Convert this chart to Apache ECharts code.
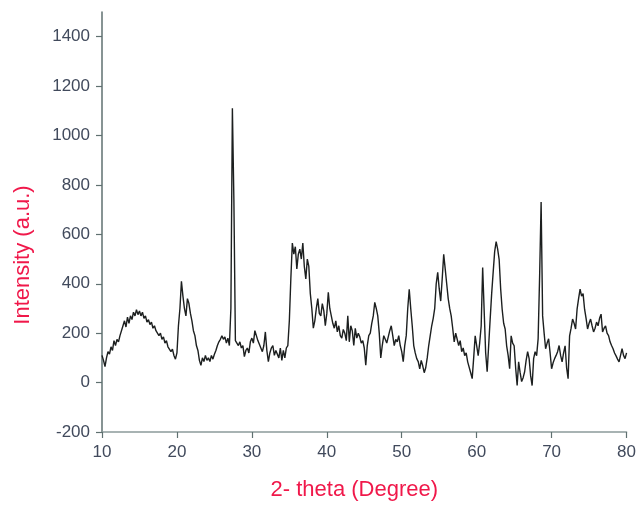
<!DOCTYPE html>
<html>
<head>
<meta charset="utf-8">
<script src="https://cdn.jsdelivr.net/npm/echarts@6/dist/echarts.min.js"></script>
<style>
html,body{margin:0;padding:0;background:#fff;}
#chart{width:639px;height:506px;}
</style>
</head>
<body>
<div id="chart"></div>
<script>
// 2-theta sampling: start and step (degrees)
var thetaStart = 10;
var thetaStep = 0.2;
// Intensity, one row per 2 degrees (10.0 ... 11.8, 12.0 ... 13.8, ...)
var intensity = [
  110, 90, 65, 100, 125, 115, 145, 130, 170, 150,
  175, 165, 190, 185, 230, 250, 225, 265, 240, 270,
  255, 285, 270, 295, 275, 290, 270, 285, 260, 270,
  245, 255, 235, 245, 220, 230, 210, 215, 190, 200,
  175, 185, 160, 170, 145, 150, 125, 135, 110, 95,
  120, 230, 300, 410, 350, 300, 270, 340, 320, 280,
  250, 210, 190, 150, 130, 90, 70, 100, 85, 110,
  90, 100, 85, 110, 95, 115, 130, 150, 165, 175,
  190, 175, 185, 160, 180, 150, 300, 1110, 740, 170,
  160, 150, 165, 140, 150, 105, 130, 140, 120, 165,
  180, 160, 210, 190, 170, 155, 140, 125, 150, 205,
  130, 85, 120, 140, 150, 110, 130, 125, 100, 140,
  90, 130, 100, 140, 150, 250, 420, 565, 520, 550,
  460, 520, 540, 500, 565, 470, 420, 500, 470, 360,
  300, 220, 250, 300, 340, 280, 270, 320, 290, 230,
  280, 365, 300, 270, 240, 220, 250, 205, 230, 190,
  180, 215, 200, 170, 270, 165, 230, 210, 150, 220,
  180, 200, 185, 160, 170, 140, 70, 150, 190, 200,
  240, 270, 325, 300, 270, 200, 100, 150, 190, 175,
  160, 185, 210, 230, 190, 150, 175, 165, 190, 150,
  125, 85, 150, 190, 300, 378, 300, 230, 150, 120,
  97, 85, 56, 90, 68, 40, 60, 100, 150, 190,
  230, 260, 300, 400, 446, 380, 330, 420, 519, 460,
  400, 340, 300, 270, 220, 165, 200, 205, 150, 170,
  125, 140, 109, 120, 84, 90, 40, 16, 100, 189,
  150, 109, 160, 229, 466, 290, 120, 44, 150, 257,
  360, 446, 530, 571, 540, 498, 380, 297, 240, 217,
  149, 110, 56, 189, 160, 149, 60, -12, 84, 40,
  4, 20, 44, 90, 125, 97, 28, -12, 97, 125,
  109, 177, 430, 731, 270, 200, 137, 160, 177, 120,
  56, 80, 97, 110, 125, 150, 110, 84, 120, 149,
  60, 16, 189, 220, 257, 240, 217, 297, 340, 378,
  350, 360, 297, 260, 217, 240, 257, 230, 205, 220,
  245, 230, 260, 277, 205, 220, 229, 200, 190, 165,
  150, 137, 120, 108, 95, 84, 110, 137, 110, 97,
  120
];
var xTicks = [10, 20, 30, 40, 50, 60, 70, 80];
var yTicks = [-200, 0, 200, 400, 600, 800, 1000, 1200, 1400];
var xTitle = '2- theta (Degree)';
var yTitle = 'Intensity (a.u.)';

var points = intensity.map(function (v, i) {
  return [Math.round((thetaStart + i * thetaStep) * 100) / 100, v];
});

var chart = echarts.init(document.getElementById('chart'), null, {renderer: 'canvas'});
var axisColor = '#5f7070';
var labelColor = '#414a5c';
var titleColor = '#f0184a';
chart.setOption({
  animation: false,
  backgroundColor: '#ffffff',
  grid: {left: 102, right: 12, top: 12, bottom: 72, containLabel: false},
  xAxis: {
    type: 'value', min: 10, max: 80, interval: 10,
    name: xTitle, nameLocation: 'middle', nameGap: 47,
    nameTextStyle: {color: titleColor, fontSize: 22, fontFamily: 'Liberation Sans, Arial', padding: [0, 20, 0, 0]},
    axisLine: {show: true, onZero: false, lineStyle: {color: '#8c9a9a', width: 1.5}},
    axisTick: {show: true, inside: false, length: 6, lineStyle: {color: axisColor, width: 1.2}, customValues: xTicks},
    axisLabel: {color: labelColor, fontSize: 17, fontFamily: 'Liberation Sans, Arial', margin: 12, customValues: xTicks,
      formatter: function (v) { return String(v); }},
    splitLine: {show: false}
  },
  yAxis: {
    type: 'value', min: -200, max: 1500,
    name: yTitle, nameLocation: 'middle', nameGap: 68,
    nameTextStyle: {color: titleColor, fontSize: 22, fontFamily: 'Liberation Sans, Arial', padding: [0, 66, 0, 0]},
    axisLine: {show: true, onZero: false, lineStyle: {color: axisColor, width: 1.5}},
    axisTick: {show: true, inside: false, length: 6, lineStyle: {color: axisColor, width: 1.2}, customValues: yTicks},
    axisLabel: {color: labelColor, fontSize: 17, fontFamily: 'Liberation Sans, Arial', margin: 12, customValues: yTicks,
      formatter: function (v) { return String(v); }},
    splitLine: {show: false}
  },
  series: [{
    type: 'line',
    data: points,
    showSymbol: false,
    symbol: 'none',
    lineStyle: {color: '#1c1f1f', width: 1.4},
    smooth: false
  }]
});
</script>
</body>
</html>
